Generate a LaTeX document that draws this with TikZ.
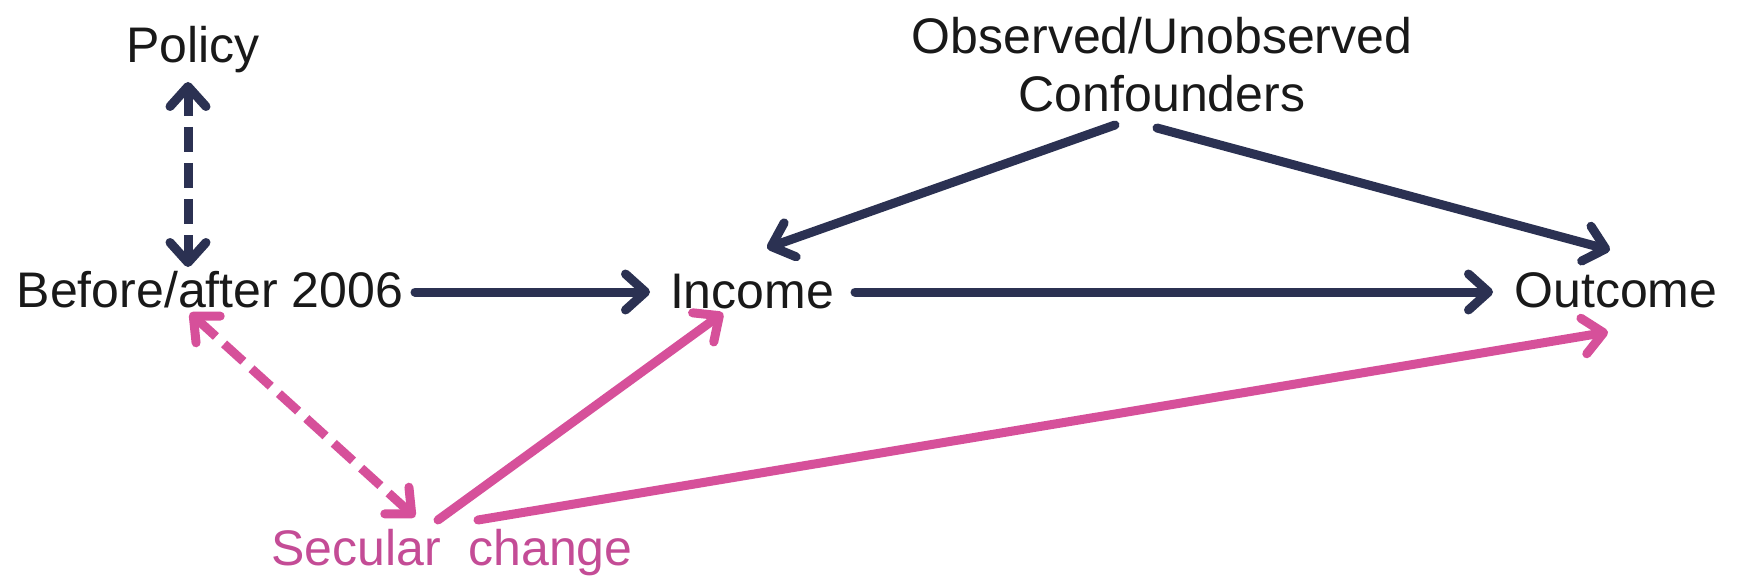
\documentclass[tikz,border=0pt]{standalone}
\usepackage{fontspec}
\setmainfont{Liberation Sans}
\usetikzlibrary{arrows.meta,calc}
\definecolor{navy}{RGB}{43,49,82}
\definecolor{pinkline}{RGB}{214,80,154}
\definecolor{pinktext}{RGB}{196,76,150}
\definecolor{ink}{RGB}{25,25,25}
\tikzset{
  barbtip/.tip={Straight Barb[length=20pt,width=36pt,line cap=round,line join=round]},
  lbl/.style={inner sep=0pt, anchor=base, font=\fontsize{50}{58}\selectfont, text=ink},
  navyconn/.style={draw=navy, line width=9pt, line cap=round, -barbtip},
  navydash/.style={draw=navy, line width=9pt, line cap=butt, barbtip-barbtip, dash pattern=on 25pt off 11pt},
  pinkconn/.style={draw=pinkline, line width=9pt, line cap=round, -barbtip},
  pinkdash/.style={draw=pinkline, line width=9pt, line cap=butt, barbtip-barbtip, dash pattern=on 26pt off 11pt},
}
\begin{document}
\begin{tikzpicture}[x=1pt,y=-1pt]
\useasboundingbox[fill=white] (0,0) rectangle (1737,580);
\node[lbl] (policy) at (193,63) {Policy};
\node[lbl] (before) at (210,307) {Before/after 2006};
\node[lbl] (income) at (752,308) {Income};
\node[lbl] (outcome) at (1616,307) {Outcome};
\node[lbl, align=center] (conf) at (1162,112) {Observed/Unobserved\\Confounders};
\node[lbl, text=pinktext] (secular) at (452,565) {Secular\ \ change};
% navy connectors
\draw[navydash] ($(policy.base)+(-5,19)$) -- ($(before.base)+(-22,-40)$);
\draw[navyconn] ($(before.base)+(205,-15)$) -- ($(income.base)+(-102,-16)$);
\draw[navyconn] ($(income.base)+(103,-16)$) -- ($(outcome.base)+(-123,-15)$);
\draw[navyconn] ($(conf.base)+(-47,13)$) -- ($(income.base)+(15,-60)$);
\draw[navyconn] ($(conf.base)+(-5,16)$) -- ($(outcome.base)+(-6,-57)$);
% pink connectors
\draw[pinkdash] ($(before.base)+(-20,6)$) -- ($(secular.base)+(-37,-48)$);
\draw[pinkconn] ($(secular.base)+(-14,-45)$) -- ($(income.base)+(-29,5)$);
\draw[pinkconn] ($(secular.base)+(26,-45)$) -- ($(outcome.base)+(-8,25)$);
\end{tikzpicture}
\end{document}
